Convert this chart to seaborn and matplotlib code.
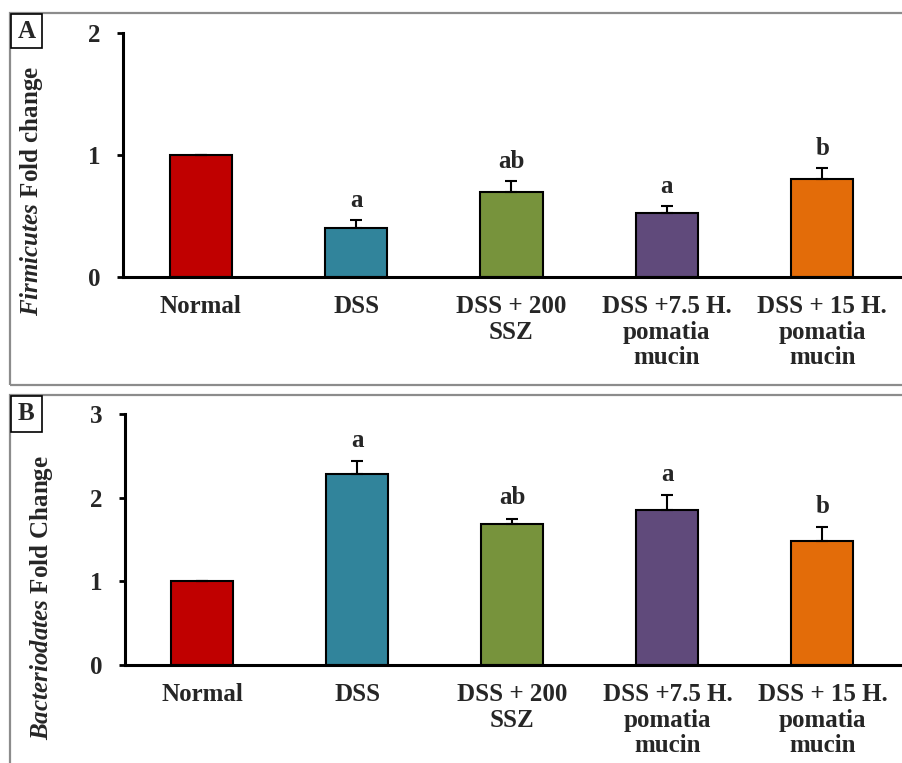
import matplotlib
matplotlib.use("Agg")
import matplotlib.pyplot as plt
import seaborn as sns
import numpy as np
import pandas as pd
from matplotlib.patches import Rectangle

# ---- data ----
categories = ["Normal", "DSS", "DSS + 200\nSSZ", "DSS +7.5 H.\npomatia\nmucin", "DSS + 15 H.\npomatia\nmucin"]
firmicutes_mean = [1.00, 0.40, 0.70, 0.525, 0.805]
firmicutes_err = [0.00, 0.07, 0.09, 0.06, 0.09]
firmicutes_sig = ["", "a", "ab", "a", "b"]
bacter_mean = [1.00, 2.28, 1.68, 1.85, 1.48]
bacter_err = [0.00, 0.16, 0.07, 0.18, 0.165]
bacter_sig = ["", "a", "ab", "a", "b"]
colors = ["#C00000", "#31849B", "#77933C", "#604A7B", "#E36C09"]
yticks_A = [0, 1, 2]
yticks_B = [0, 1, 2, 3]

sns.set_theme(style="white")
plt.rcParams["font.family"] = ["Liberation Serif", "DejaVu Serif"]
plt.rcParams["font.weight"] = "bold"
plt.rcParams["mathtext.fontset"] = "custom"
plt.rcParams["mathtext.it"] = "Liberation Serif:italic"
plt.rcParams["mathtext.rm"] = "Liberation Serif:bold"

W, H = 903, 763
fig = plt.figure(figsize=(W / 100, H / 100), dpi=100)
fig.patch.set_facecolor("white")


def px_axes(left, top, bottom, right=W):
    return fig.add_axes([left / W, 1 - bottom / H, (right - left) / W, (bottom - top) / H])


def draw_panel(ax, means, errs, sigs, yticks, label_off):
    df = pd.DataFrame({"cat": categories, "val": means})
    sns.barplot(data=df, x="cat", y="val", hue="cat", palette=colors, legend=False,
                ax=ax, width=0.4, edgecolor="black", linewidth=1.5, errorbar=None,
                saturation=1)
    xs = np.arange(len(categories))
    ax.errorbar(xs, means, yerr=[np.zeros(len(errs)), errs], fmt="none",
                ecolor="black", elinewidth=1.5, capsize=4, capthick=1.5, zorder=5)
    for x, m, e, s in zip(xs, means, errs, sigs):
        if s:
            ax.annotate(s, (x, m + e), xytext=(0, label_off), textcoords="offset points",
                        ha="center", va="center", fontsize=18, fontweight="bold")
    ax.set_xlim(-0.5, 4.52)
    ax.set_ylim(yticks[0], yticks[-1])
    ax.set_yticks(yticks)
    ax.set_yticklabels([str(t) for t in yticks], fontsize=18, fontweight="bold")
    ax.set_xticks(xs)
    ax.set_xticklabels(categories, fontsize=18, fontweight="bold", linespacing=1.15)
    ax.set_xlabel("")
    ax.set_ylabel("")
    for sp in ["top", "right"]:
        ax.spines[sp].set_visible(False)
    for sp in ["left", "bottom"]:
        ax.spines[sp].set_color("black")
        ax.spines[sp].set_linewidth(2.2)
    ax.tick_params(axis="x", length=0, pad=13)
    ax.tick_params(axis="y", direction="out", length=4.5, width=2, color="black", pad=12, left=True)
    ax.set_facecolor("white")
    ax.patch.set_alpha(0)


# panel borders
for (y0, y1) in [(13, 385), (395, 800)]:
    fig.patches.append(Rectangle((10 / W, 1 - y1 / H), 1.2, (y1 - y0) / H,
                                 transform=fig.transFigure, fill=False,
                                 edgecolor="#8c8c8c", linewidth=1.6, zorder=0))

axA = px_axes(123, 33, 277)
draw_panel(axA, firmicutes_mean, firmicutes_err, firmicutes_sig, yticks_A, 14)
axB = px_axes(125, 414, 665)
draw_panel(axB, bacter_mean, bacter_err, bacter_sig, yticks_B, 15)

fig.text(32 / W, 1 - 191 / H, r"$\mathit{Firmicutes}$ Fold change", rotation=90,
         ha="center", va="center", fontsize=18, fontweight="bold")
fig.text(42 / W, 1 - 598 / H, r"$\mathit{Bacteriodates}$ Fold Change", rotation=90,
         ha="center", va="center", fontsize=18, fontweight="bold")

# panel letters in boxes
for (lbl, x0, y0, x1, y1) in [("A", 11, 14, 42, 48), ("B", 11, 396, 42, 432)]:
    fig.patches.append(Rectangle((x0 / W, 1 - y1 / H), (x1 - x0) / W, (y1 - y0) / H,
                                 transform=fig.transFigure, facecolor="white",
                                 edgecolor="black", linewidth=1.2, zorder=2))
    fig.text((x0 + x1) / 2 / W, 1 - (y0 + y1) / 2 / H, lbl, ha="center", va="center",
             fontsize=18, fontweight="bold", zorder=3)

fig.savefig("out.png", dpi=100, facecolor="white")
